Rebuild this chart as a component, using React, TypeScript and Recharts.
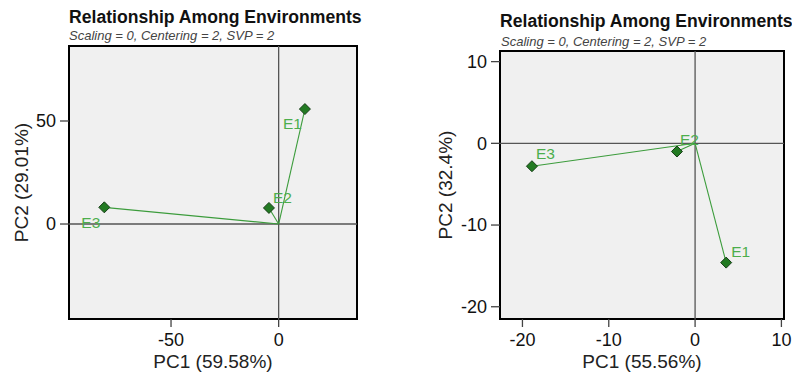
import React from 'react';
import { ScatterChart, Scatter, XAxis, YAxis, ReferenceArea, ReferenceLine } from 'recharts';

// Environment scores on the first two principal components
const environments = ['E1', 'E2', 'E3'];
const leftPC1 = [12.2, -4.5, -81.0];
const leftPC2 = [55.8, 7.8, 8.1];
const rightPC1 = [3.6, -2.1, -18.9];
const rightPC2 = [-14.6, -1.0, -2.8];

const leftXTicks = [-50, 0];
const leftYTicks = [0, 50];
const rightXTicks = [-20, -10, 0, 10];
const rightYTicks = [-20, -10, 0, 10];

const leftXDomain: [number, number] = [-97.4, 36.4];
const leftYDomain: [number, number] = [-46.1, 86.4];
const rightXDomain: [number, number] = [-22.6, 10.3];
const rightYDomain: [number, number] = [-21.5, 11.3];

const FONT = '"Liberation Sans", Arial, sans-serif';
const LINE_GREEN = '#3c9c3c';
const LABEL_GREEN = '#4cae4c';

// label placement relative to each marker (style only)
const leftLabelOffsets: Record<string, [number, number]> = {
  E1: [-22, 20],
  E2: [4, -5],
  E3: [-23, 21],
};
const rightLabelOffsets: Record<string, [number, number]> = {
  E1: [5, -6],
  E2: [3, -7],
  E3: [4, -7],
};

const toPoints = (xs: number[], ys: number[]) =>
  environments.map((name, i) => ({ name, x: xs[i], y: ys[i] }));

const makeMarker = (offsets: Record<string, [number, number]>) => (props: any) => {
  const { cx, cy, payload } = props;
  const r = 5.5;
  const [dx, dy] = offsets[payload.name] || [4, -5];
  return (
    <g>
      <polygon
        points={`${cx},${cy - r} ${cx + r},${cy} ${cx},${cy + r} ${cx - r},${cy}`}
        fill="#227a22"
        stroke="#173d17"
        strokeWidth={1}
      />
      <text x={cx + dx} y={cy + dy} fill={LABEL_GREEN} fontSize={15.5} fontFamily={FONT}>
        {payload.name}
      </text>
    </g>
  );
};

type PanelProps = {
  width: number;
  margin: { top: number; right: number; bottom: number; left: number };
  yAxisWidth: number;
  xs: number[];
  ys: number[];
  xDomain: [number, number];
  yDomain: [number, number];
  xTicks: number[];
  yTicks: number[];
  xLabel: string;
  yLabel: string;
  yLabelOffset: number;
  offsets: Record<string, [number, number]>;
};

const tickStyle = { fontSize: 18, fill: '#111', fontFamily: FONT };
const axisTitleStyle = { fontSize: 19, fill: '#222', fontFamily: FONT };

function Panel(p: PanelProps) {
  const points = toPoints(p.xs, p.ys);
  return (
    <ScatterChart width={p.width} height={375} margin={p.margin}>
      <XAxis
        type="number"
        dataKey="x"
        domain={p.xDomain}
        allowDataOverflow
        ticks={p.xTicks}
        height={56}
        axisLine={false}
        tickSize={8}
        tickMargin={6}
        tickLine={{ stroke: '#444', strokeWidth: 1.3 }}
        tick={tickStyle}
        label={{
          value: p.xLabel,
          position: 'insideBottom',
          offset: 7,
          style: axisTitleStyle,
        }}
      />
      <YAxis
        type="number"
        dataKey="y"
        domain={p.yDomain}
        allowDataOverflow
        ticks={p.yTicks}
        width={p.yAxisWidth}
        axisLine={false}
        tickSize={9}
        tickMargin={4}
        tickLine={{ stroke: '#444', strokeWidth: 1.3 }}
        tick={tickStyle}
        label={{
          value: p.yLabel,
          angle: -90,
          position: 'insideLeft',
          offset: p.yLabelOffset,
          style: { ...axisTitleStyle, textAnchor: 'middle' },
        }}
      />
      <ReferenceArea
        x1={p.xDomain[0]}
        x2={p.xDomain[1]}
        y1={p.yDomain[0]}
        y2={p.yDomain[1]}
        fill="#f0f0f0"
        fillOpacity={1}
        stroke="#000"
        strokeWidth={2}
      />
      <ReferenceLine x={0} stroke="#555" strokeWidth={1.3} />
      <ReferenceLine y={0} stroke="#555" strokeWidth={1.3} />
      {points.map((pt) => (
        <ReferenceLine
          key={pt.name}
          segment={[
            { x: 0, y: 0 },
            { x: pt.x, y: pt.y },
          ]}
          stroke={LINE_GREEN}
          strokeWidth={1.1}
        />
      ))}
      <Scatter data={points} shape={makeMarker(p.offsets)} isAnimationActive={false} />
    </ScatterChart>
  );
}

const TITLE = 'Relationship Among Environments';
const SUBTITLE = 'Scaling = 0, Centering = 2, SVP = 2';

export default function App() {
  return (
    <div style={{ position: 'absolute', left: 0, top: 0, width: 792, height: 375, background: '#fff', fontFamily: FONT }}>
      <div style={{ position: 'absolute', left: 0, top: 0 }}>
        <Panel
          width={400}
          margin={{ top: 46, right: 43, bottom: 0, left: 0 }}
          yAxisWidth={69}
          xs={leftPC1}
          ys={leftPC2}
          xDomain={leftXDomain}
          yDomain={leftYDomain}
          xTicks={leftXTicks}
          yTicks={leftYTicks}
          xLabel="PC1 (59.58%)"
          yLabel="PC2 (29.01%)"
          yLabelOffset={21}
          offsets={leftLabelOffsets}
        />
      </div>
      <div style={{ position: 'absolute', left: 400, top: 0 }}>
        <Panel
          width={392}
          margin={{ top: 51, right: 8, bottom: 0, left: 0 }}
          yAxisWidth={100}
          xs={rightPC1}
          ys={rightPC2}
          xDomain={rightXDomain}
          yDomain={rightYDomain}
          xTicks={rightXTicks}
          yTicks={rightYTicks}
          xLabel="PC1 (55.56%)"
          yLabel="PC2 (32.4%)"
          yLabelOffset={45}
          offsets={rightLabelOffsets}
        />
      </div>
      <svg width={792} height={375} style={{ position: 'absolute', left: 0, top: 0, pointerEvents: 'none' }}>
        <text x={69} y={22.7} fontSize={17.6} fontWeight="bold" fill="#111" fontFamily={FONT}>{TITLE}</text>
        <text x={69} y={40} fontSize={13} fontStyle="italic" fill="#444" fontFamily={FONT}>{SUBTITLE}</text>
        <text x={500} y={27} fontSize={17.6} fontWeight="bold" fill="#111" fontFamily={FONT}>{TITLE}</text>
        <text x={501} y={45.5} fontSize={13} fontStyle="italic" fill="#444" fontFamily={FONT}>{SUBTITLE}</text>
      </svg>
    </div>
  );
}
